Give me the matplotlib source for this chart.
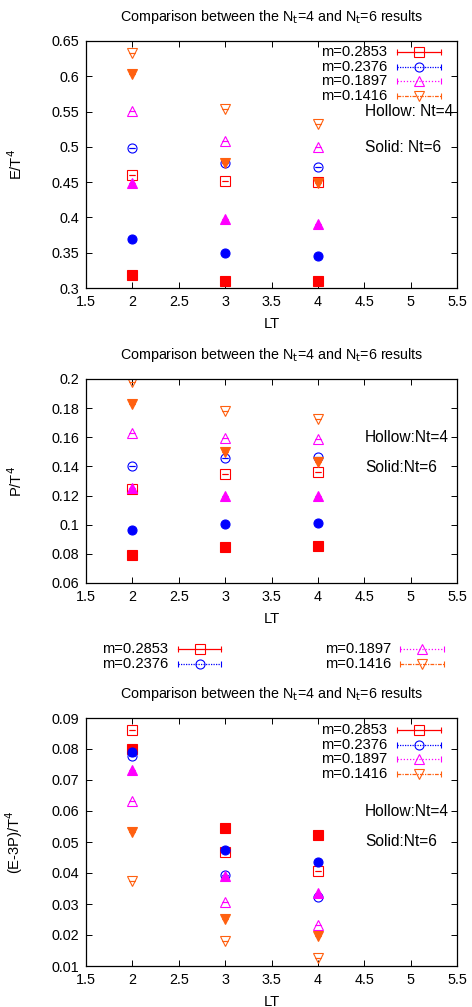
import matplotlib.pyplot as plt
from matplotlib.lines import Line2D

plt.rcParams['font.family'] = ['Liberation Sans', 'DejaVu Sans']

# data
LT = [2, 3, 4]
masses = ["m=0.2853", "m=0.2376", "m=0.1897", "m=0.1416"]
colors = ["#ff0000", "#0000ff", "#ff00ff", "#ff6010"]
markers = ["s", "o", "^", "v"]
styles = ["-", (0, (1, 1)), (0, (1, 1.5)), (0, (3, 1, 1, 1))]

# E/T^4
e_nt4 = [[0.460, 0.451, 0.4495], [0.499, 0.477, 0.472],
         [0.551, 0.509, 0.500], [0.633, 0.554, 0.532]]
e_nt6 = [[0.318, 0.310, 0.310], [0.369, 0.349, 0.346],
         [0.4486, 0.398, 0.391], [0.603, 0.477, 0.449]]

# P/T^4
p_nt4 = [[0.1243, 0.1346, 0.1362], [0.140, 0.1456, 0.1468],
         [0.1628, 0.1594, 0.159], [0.198, 0.1782, 0.1725]]
p_nt6 = [[0.0795, 0.085, 0.0857], [0.0967, 0.1004, 0.1009],
         [0.1252, 0.1199, 0.1197], [0.183, 0.1497, 0.1429]]

# (E-3P)/T^4
i_nt4 = [[0.0862, 0.0468, 0.0407], [0.0776, 0.0394, 0.0321],
         [0.0633, 0.0307, 0.0232], [0.0373, 0.018, 0.0127]]
i_nt6 = [[0.0801, 0.0544, 0.0522], [0.0791, 0.0475, 0.0437],
         [0.0731, 0.0391, 0.0334], [0.0532, 0.0252, 0.0196]]

W, H = 472, 1007
fig = plt.figure(figsize=(W / 100, H / 100), dpi=100)


def fx(px):
    return px / W


def fy(py):
    return 1 - py / H


def legend_entry(x_text, x0, x1, y, i):
    # gnuplot style key: label, errorbar line with end ticks, marker in middle
    fig.text(fx(x_text), fy(y), masses[i], ha='right', va='center', fontsize=10.6)
    fig.add_artist(Line2D([fx(x0), fx(x1)], [fy(y), fy(y)], transform=fig.transFigure,
                          color=colors[i], lw=0.9, ls=styles[i]))
    fig.add_artist(Line2D([fx(x0), fx(x1)], [fy(y), fy(y)], transform=fig.transFigure,
                          color=colors[i], lw=0, marker='|', ms=4, mew=0.8))
    fig.add_artist(Line2D([fx((x0 + x1) / 2)], [fy(y)], transform=fig.transFigure,
                          color=colors[i], lw=0, marker=markers[i], ms=6.5,
                          mfc='none', mew=0.8))


def panel(top, bottom, nt4, nt6, ylim, yticks, ylabel, hollow, solid, txt_y, key_y=None):
    ax = fig.add_axes([fx(86), fy(bottom), fx(457 - 86), (bottom - top) / H])
    for i in range(4):
        ax.errorbar(LT, nt4[i], yerr=0, fmt=markers[i], color=colors[i], ms=6.5,
                    mfc='none', mew=0.8, capsize=2, elinewidth=0.8, capthick=0.8)
        ax.errorbar(LT, nt6[i], yerr=0, fmt=markers[i], color=colors[i], ms=6.5,
                    mew=0.8, capsize=2, elinewidth=0.8, capthick=0.8)
    ax.set_xlim(1.5, 5.5)
    ax.set_ylim(*ylim)
    ax.set_xticks([1.5, 2, 2.5, 3, 3.5, 4, 4.5, 5, 5.5])
    ax.set_xticklabels(["1.5", "2", "2.5", "3", "3.5", "4", "4.5", "5", "5.5"])
    ax.set_yticks(yticks)
    ax.set_yticklabels([f"{t:g}" for t in yticks])
    ax.tick_params(direction='in', top=True, right=True, length=4, width=0.7,
                   labelsize=10.4, pad=5)
    for s in ax.spines.values():
        s.set_linewidth(0.9)
    ax.set_xlabel("LT", fontsize=10.6, labelpad=6)
    ax.set_ylabel(ylabel, fontsize=10.6)
    ax.yaxis.set_label_coords(-0.165, 0.5)
    fig.text(fx(272), fy(top - 24), r"Comparison between the N$_{\rm t}$=4 and N$_{\rm t}$=6 results",
             ha='center', va='center', fontsize=10.3)
    fig.text(fx(365), fy(txt_y[0]), hollow, ha='left', va='center', fontsize=11.2)
    fig.text(fx(365), fy(txt_y[1]), solid, ha='left', va='center', fontsize=11.2)
    if key_y is not None:
        for i in range(4):
            legend_entry(387, 397, 441, key_y[i], i)
    return ax


panel(41, 288, e_nt4, e_nt6, (0.3, 0.65), [0.3, 0.35, 0.4, 0.45, 0.5, 0.55, 0.6, 0.65],
      r"E/T$^4$", "Hollow: Nt=4", "Solid: Nt=6", (112, 147), (52, 67, 81, 96))
panel(379, 583, p_nt4, p_nt6, (0.06, 0.2), [0.06, 0.08, 0.1, 0.12, 0.14, 0.16, 0.18, 0.2],
      r"P/T$^4$", "Hollow:Nt=4", "Solid:Nt=6", (438, 467))
panel(718, 966, i_nt4, i_nt6, (0.01, 0.09),
      [0.01, 0.02, 0.03, 0.04, 0.05, 0.06, 0.07, 0.08, 0.09],
      r"(E-3P)/T$^4$", "Hollow:Nt=4", "Solid:Nt=6", (811, 842), (730, 745, 759, 774))

# stray key between the middle and bottom panels
legend_entry(168, 178, 221, 649, 0)
legend_entry(168, 178, 221, 664, 1)
legend_entry(391, 400, 444, 649, 2)
legend_entry(391, 400, 444, 664, 3)

fig.savefig("out.png", dpi=100)
